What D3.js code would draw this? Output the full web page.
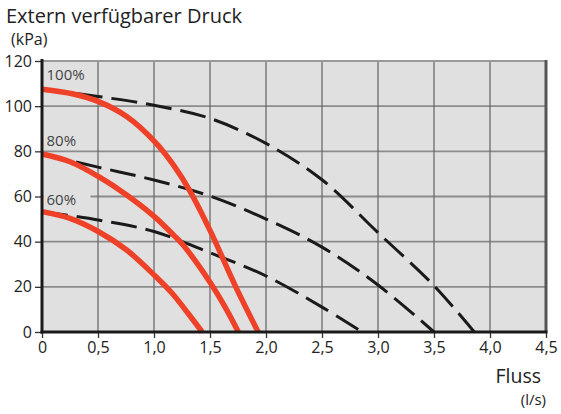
<!DOCTYPE html>
<html><head><meta charset="utf-8">
<script src="https://cdn.jsdelivr.net/npm/d3@7"></script>
<style>
body{margin:0;background:#fff;}
text{font-family:"Open Sans",sans-serif;}
</style></head>
<body><svg id="c" width="561" height="414"></svg>
<script>
// ---- data ----
const xTicks = [0, 0.5, 1.0, 1.5, 2.0, 2.5, 3.0, 3.5, 4.0, 4.5];
const yTicks = [0, 20, 40, 60, 80, 100, 120];
const seriesLabels = ["100%", "80%", "60%"];

const pump100X = [0, 0.28, 0.506, 0.756, 1.006, 1.173, 1.32, 1.5, 1.73, 1.93];
const pump100Y = [107.5, 105.4, 102, 95.4, 84.3, 74, 62.5, 45, 20, 0];
const pump80X = [0, 0.25, 0.506, 0.756, 1.006, 1.173, 1.26, 1.506, 1.65, 1.753];
const pump80Y = [78.8, 75.4, 68.8, 60.7, 51, 43, 38.5, 21.6, 9.7, 0];
const pump60X = [0, 0.25, 0.506, 0.756, 1.006, 1.173, 1.3, 1.43];
const pump60Y = [53.3, 50.3, 44.4, 36.3, 25, 16.5, 8.5, 0];

const avail100X = [0, 0.5, 1.0, 1.5, 2.0, 2.5, 3.0, 3.5, 3.86];
const avail100Y = [107.5, 104.3, 100.4, 94.6, 83.5, 67.4, 44, 20.5, 0];
const avail80X = [0, 0.5, 1.0, 1.5, 2.0, 2.5, 3.0, 3.5];
const avail80Y = [78.8, 73, 67.3, 60.2, 50, 37.6, 20.8, 0];
const avail60X = [0, 0.5, 1.0, 1.5, 2.0, 2.5, 2.86];
const avail60Y = [53.3, 49.6, 44.5, 35.1, 24.8, 11, 0];

// ---- layout ----
const svg = d3.select("#c");
const L = 42, R = 546, T = 61, B = 332;
const x = d3.scaleLinear().domain([0, 4.5]).range([L, R]);
const y = d3.scaleLinear().domain([0, 120]).range([B, T]);

svg.append("rect").attr("x", L).attr("y", T).attr("width", R - L).attr("height", B - T).attr("fill", "#e0e0e0");

// grid
svg.append("g").selectAll("line").data(yTicks.filter(d => d > 0 && d < 120)).join("line")
  .attr("x1", L).attr("x2", R).attr("y1", d => y(d)).attr("y2", d => y(d))
  .attr("stroke", "#8c8c8c").attr("stroke-width", 1.8);
svg.append("g").selectAll("line").data(xTicks.filter(d => d > 0 && d < 4.5)).join("line")
  .attr("x1", d => x(d)).attr("x2", d => x(d)).attr("y1", T).attr("y2", B)
  .attr("stroke", "#626262").attr("stroke-width", 1.2);

// top & right border
svg.append("line").attr("x1", L).attr("x2", R).attr("y1", T).attr("y2", T).attr("stroke", "#9a9a9a").attr("stroke-width", 2);
svg.append("line").attr("x1", R).attr("x2", R).attr("y1", T - 1).attr("y2", B).attr("stroke", "#555").attr("stroke-width", 3);

// series labels (baselines in px)
const labelBase = [80, 146, 205];
seriesLabels.forEach((s, i) => {
  const ty = labelBase[i];
  if (i === 2) {
    svg.append("rect").attr("x", L + 1.5).attr("y", ty - 13).attr("width", 47).attr("height", 16).attr("fill", "#e0e0e0");
  }
  svg.append("text").attr("x", L + 4.5).attr("y", ty).text(s)
    .attr("font-size", 15).attr("fill", "#444");
});

const line = d3.line().x(d => x(d[0])).y(d => y(d[1])).curve(d3.curveCatmullRom.alpha(0.5));
const zip = (a, b) => a.map((v, i) => [v, b[i]]);

[[avail100X, avail100Y], [avail80X, avail80Y], [avail60X, avail60Y]].forEach(([a, b]) => {
  svg.append("path").attr("d", line(zip(a, b))).attr("fill", "none")
    .attr("stroke", "#1a1a1a").attr("stroke-width", 3).attr("stroke-dasharray", "26,9");
});
[[pump100X, pump100Y], [pump80X, pump80Y], [pump60X, pump60Y]].forEach(([a, b]) => {
  svg.append("path").attr("d", line(zip(a, b))).attr("fill", "none")
    .attr("stroke", "#ee4128").attr("stroke-width", 5.5);
});

// axes
const yAxis = d3.axisLeft(y).tickValues(yTicks).tickSize(7).tickPadding(3);
const gy = svg.append("g").attr("transform", `translate(${L},0)`).call(yAxis);
const xAxis = d3.axisBottom(x).tickValues(xTicks).tickSize(6).tickPadding(4)
  .tickFormat(d => d === 0 ? "0" : d3.format(".1f")(d).replace(".", ","));
const gx = svg.append("g").attr("transform", `translate(0,${B})`).call(xAxis);
[gy, gx].forEach(g => {
  g.select(".domain").remove();
  g.selectAll(".tick line").attr("stroke", "#333").attr("stroke-width", 1.3);
  g.selectAll(".tick text").attr("font-size", 16).attr("fill", "#222").attr("font-family", "Open Sans, sans-serif");
});
svg.append("line").attr("x1", L).attr("x2", L).attr("y1", T - 2).attr("y2", B + 1.5).attr("stroke", "#1a1a1a").attr("stroke-width", 3);
svg.append("line").attr("x1", L - 1.5).attr("x2", R + 1.5).attr("y1", B).attr("y2", B).attr("stroke", "#1a1a1a").attr("stroke-width", 3);

// titles
svg.append("text").attr("x", 6).attr("y", 23).text("Extern verfügbarer Druck").attr("font-size", 20).attr("fill", "#222");
svg.append("text").attr("x", 11).attr("y", 45).text("(kPa)").attr("font-size", 16).attr("fill", "#222");
svg.append("text").attr("x", 541).attr("y", 383).attr("text-anchor", "end").text("Fluss").attr("font-size", 19.5).attr("fill", "#222");
svg.append("text").attr("x", 546).attr("y", 405).attr("text-anchor", "end").text("(l/s)").attr("font-size", 15).attr("fill", "#222");
</script></body></html>
